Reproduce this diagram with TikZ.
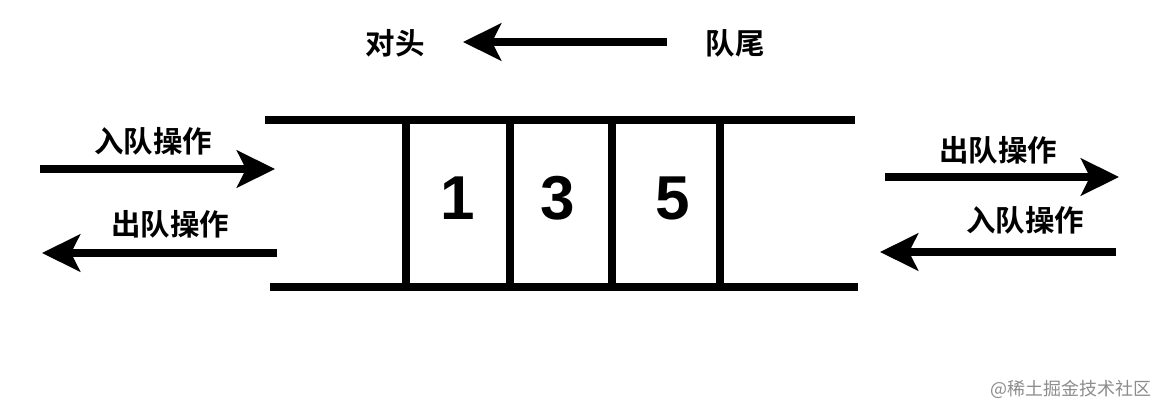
\documentclass[tikz,border=0pt]{standalone}
\usepackage{fontspec}
\usepackage{tikz}
\usetikzlibrary{arrows.meta}
\newfontfamily\cjkbold{Noto Sans CJK SC Bold}
\newfontfamily\cjklight{Noto Sans CJK SC}
\newfontfamily\digitfont{Liberation Sans Bold}

\begin{document}
\begin{tikzpicture}[x=1pt, y=-1pt]
        \tikzstyle{opLabel} = [font=\cjkbold\fontsize{29.5}{29.5}\selectfont, inner sep=0]
        \tikzstyle{numLabel} = [font=\digitfont\fontsize{62}{62}\selectfont, inner sep=0]
        \tikzstyle{bigArrow} = [draw=black, line width=8pt,
                                -{Stealth[length=38pt, width=37pt, inset=9pt]}]
        \tikzstyle{queueLine} = [draw=black, line width=8pt]
        \useasboundingbox (0,0) rectangle (1166,414);
        % direction of the queue
        \node[opLabel] (head) at (395,43) {对头};
        \node[opLabel] (tail) at (735,43) {队尾};
        \coordinate (dirStart) at (667,42);
        \coordinate (dirEnd) at (463,42);
        \path[bigArrow] (dirStart) -- (dirEnd);
        % queue body
        \path[queueLine] (265,120) -- (855,120);
        \path[queueLine] (270,287) -- (858,287);
        \foreach \x in {406,510,612,720}
            \path[queueLine] (\x,120) -- (\x,287);
        \node[numLabel] (n1) at (458,198) {1};
        \node[numLabel] (n3) at (558,198) {3};
        \node[numLabel] (n5) at (673,198) {5};
        % left side
        \node[opLabel] (leftIn) at (153,141) {入队操作};
        \node[opLabel] (leftOut) at (170,224) {出队操作};
        \coordinate (lInA) at (40,169);
        \coordinate (lInB) at (275,169);
        \coordinate (lOutA) at (277,253);
        \coordinate (lOutB) at (42,253);
        \path[bigArrow] (lInA) -- (lInB);
        \path[bigArrow] (lOutA) -- (lOutB);
        % right side
        \node[opLabel] (rightOut) at (998,150) {出队操作};
        \node[opLabel] (rightIn) at (1025,220) {入队操作};
        \coordinate (rOutA) at (885,177);
        \coordinate (rOutB) at (1119,177);
        \coordinate (rInA) at (1116,252);
        \coordinate (rInB) at (880,252);
        \path[bigArrow] (rOutA) -- (rOutB);
        \path[bigArrow] (rInA) -- (rInB);
        % watermark
        \node[font=\cjklight\fontsize{18}{18}\selectfont, text=black!45, inner sep=0]
            (mark) at (1071,389) {@稀土掘金技术社区};
    \end{tikzpicture}
\end{document}
